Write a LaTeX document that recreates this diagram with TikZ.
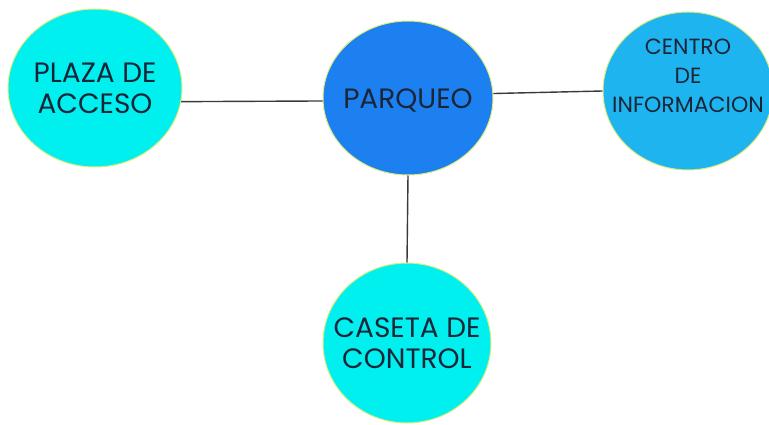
\documentclass[tikz,border=0pt]{standalone}
\usepackage{fontspec}
\setmainfont{Poppins}
\usetikzlibrary{shapes.geometric, positioning}

\definecolor{aqua}{HTML}{00F0F0}
\definecolor{parkblue}{HTML}{1C80F0}
\definecolor{skyblue}{HTML}{1EB4F0}
\definecolor{rimyellow}{HTML}{DDEE80}
\definecolor{inkblue}{HTML}{1A2638}
\definecolor{wire}{HTML}{3A3A3A}

\begin{document}
\begin{tikzpicture}[x=1pt, y=-1pt,
    bubble/.style={ellipse, draw=rimyellow, line width=1pt, inner sep=0pt},
    tag/.style={align=center, text=inkblue, font=\fontsize{28}{31}\selectfont},
    smalltag/.style={align=center, text=inkblue, font=\fontsize{22}{29}\selectfont},
    link/.style={wire, line width=1.4pt}
]
\useasboundingbox (0,0) rectangle (769,425);

\node[bubble, fill=aqua, minimum width=174pt, minimum height=158pt,
    label={[tag]center:PLAZA DE\\ACCESO}] (plaza) at (95, 88) {};
\node[bubble, fill=parkblue, minimum width=170pt, minimum height=154pt,
    label={[tag, yshift=-2pt]center:PARQUEO}] (parqueo) at (408, 98) {};
\node[bubble, fill=skyblue, minimum width=170pt, minimum height=158pt,
    label={[smalltag, yshift=15pt]center:CENTRO\\DE\\INFORMACION}] (centro) at (688, 91) {};
\node[bubble, fill=aqua, minimum width=168pt, minimum height=160pt,
    label={[tag]center:CASETA DE\\CONTROL}] (caseta) at (407, 343) {};

\draw[link] (plaza.-9) -- (parqueo.182);
\draw[link] (parqueo.3) -- (centro.west);
\draw[link] (parqueo.south) -- (caseta.north);
\end{tikzpicture}
\end{document}
